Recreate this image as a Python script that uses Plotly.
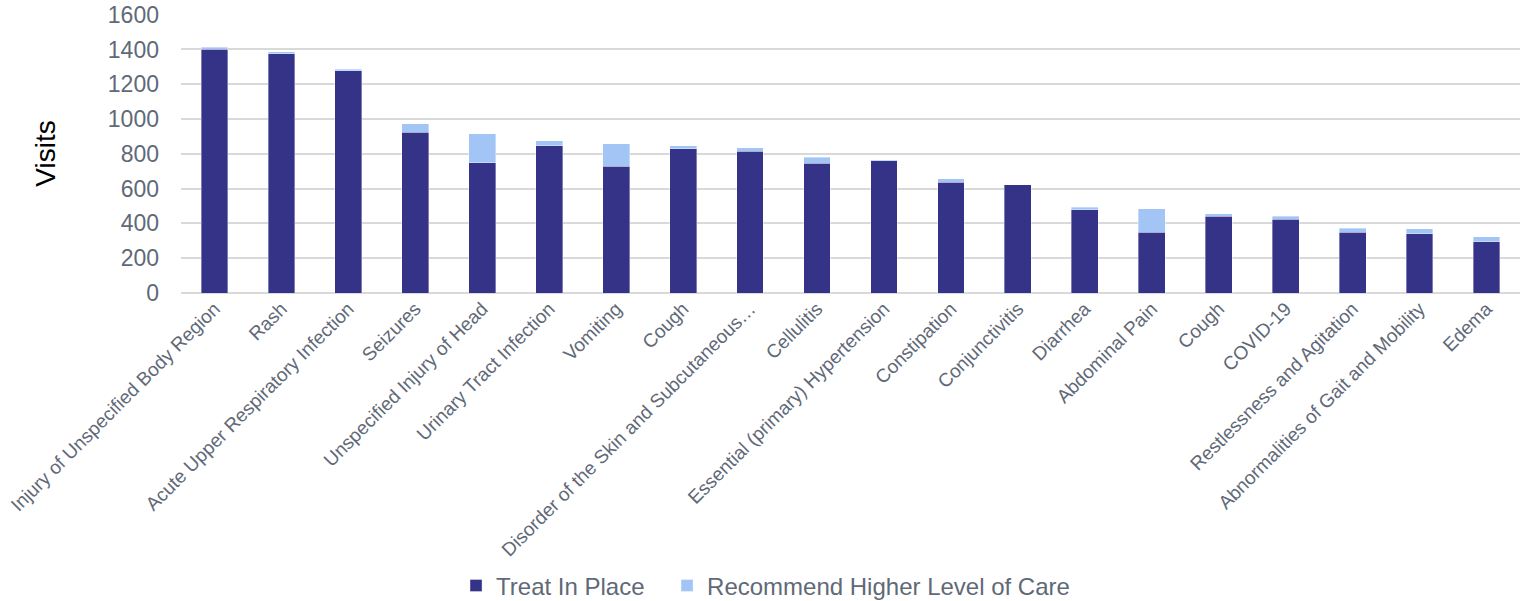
import plotly.graph_objects as go

categories = [
    "Injury of Unspecified Body Region", "Rash", "Acute Upper Respiratory Infection",
    "Seizures", "Unspecified Injury of Head", "Urinary Tract Infection", "Vomiting",
    "Cough", "Disorder of the Skin and Subcutaneous…", "Cellulitis",
    "Essential (primary) Hypertension", "Constipation", "Conjunctivitis", "Diarrhea",
    "Abdominal Pain", "Cough", "COVID-19", "Restlessness and Agitation",
    "Abnormalities of Gait and Mobility", "Edema",
]
treat_in_place = [1400, 1375, 1277, 925, 750, 848, 729, 830, 815, 746,
                  760, 636, 621, 479, 350, 440, 423, 348, 341, 296]
recommend_higher = [13, 12, 9, 48, 165, 27, 130, 16, 20, 35,
                    5, 20, 2, 13, 135, 16, 17, 25, 29, 28]
y_ticks = [0, 200, 400, 600, 800, 1000, 1200, 1400, 1600]

FONT = "Liberation Sans, Arial, sans-serif"
GREY = "#5f6978"
pos = list(range(len(categories)))

fig = go.Figure()
fig.add_trace(go.Bar(
    x=pos, y=treat_in_place, name="Treat In Place",
    marker=dict(color="#353388", line=dict(color="rgba(255,255,255,0.6)", width=0.6)),
    width=0.4, legend="legend",
))
fig.add_trace(go.Bar(
    x=pos, y=recommend_higher, name="Recommend Higher Level of Care",
    marker=dict(color="#a3c5f6", line=dict(color="rgba(255,255,255,0.6)", width=0.6)),
    width=0.4, legend="legend2",
))

legend_style = dict(
    orientation="h", xanchor="left", y=-1.05, yanchor="middle",
    font=dict(size=24, color=GREY, family=FONT), itemwidth=30,
    bgcolor="rgba(0,0,0,0)",
)

fig.update_layout(
    barmode="stack",
    width=1520, height=601,
    margin=dict(l=181, r=0, t=14, b=308, autoexpand=False),
    paper_bgcolor="white", plot_bgcolor="white",
    font=dict(family=FONT, color=GREY),
    showlegend=True,
    legend=dict(x=0.2054, **legend_style),
    legend2=dict(x=0.363, **legend_style),
    xaxis=dict(
        tickmode="array", tickvals=pos, ticktext=categories,
        tickangle=-45, tickfont=dict(size=19, color=GREY, family=FONT),
        range=[-0.5, len(categories) - 0.5],
        showgrid=False, showline=False, zeroline=False, ticks="",
        automargin=False,
    ),
    yaxis=dict(
        range=[0, 1604], tickvals=y_ticks,
        tickfont=dict(size=23, color=GREY, family=FONT),
        gridcolor="#d9d9d9", gridwidth=1.5,
        zeroline=True, zerolinecolor="#d9d9d9", zerolinewidth=1.5,
        showline=False, ticks="", ticklabelstandoff=21,
        automargin=False,
        title=dict(text="Visits", font=dict(size=28, color="black", family=FONT), standoff=44),
    ),
)

fig.write_html(
    "out.html",
    config={"displayModeBar": False},
    post_script="document.body.style.margin='0';document.body.style.overflow='hidden';",
)
